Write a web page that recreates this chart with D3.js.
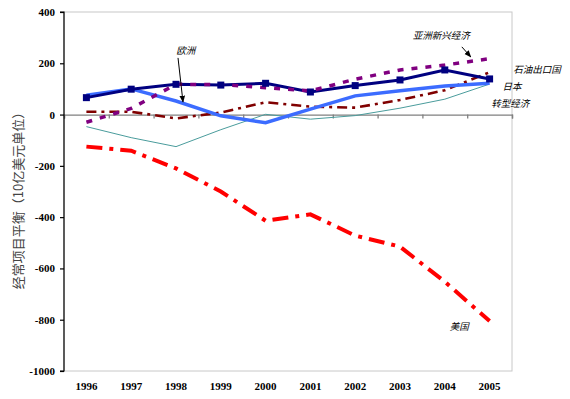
<!DOCTYPE html>
<html lang="zh">
<head>
  <meta charset="UTF-8">
  <title>经常项目平衡</title>
  <style>
    body { margin: 0; background: #fff; }
    svg { display: block; }
    .tick text { font-family: "Liberation Serif", "Times New Roman", serif; font-weight: bold; font-size: 11px; fill: #000; }
    .note { font-family: "Noto Sans CJK SC", sans-serif; font-style: italic; font-size: 9.5px; fill: #000; }
  </style>
</head>
<body>
  <div id="chart"></div>
  <script src="https://d3js.org/d3.v7.min.js"></script>
  <script>
    // 数据（从图上读取，单位：10亿美元）
    let years = ['1996', '1997', '1998', '1999', '2000', '2001', '2002', '2003', '2004', '2005']
    let usa = [-125, -141, -210, -300, -414, -389, -472, -515, -652, -805]
    let japan = [66, 99, 118, 115, 122, 88, 113, 135, 174, 139]
    let euro = [75, 100, 53, -5, -32, 21, 73, 93, 111, 122]
    let oil = [11, 11, -15, 8, 48, 31, 27, 57, 95, 165]
    let asia = [-30, 24, 118, 117, 105, 92, 138, 174, 193, 218]
    let transition = [-47, -90, -125, -59, 1, -18, -4, 25, 60, 119]
    let yTicks = [400, 200, 0, -200, -400, -600, -800, -1000]

    let W = 570, H = 399
    let pL = 64, pR = 512, pT = 12, pB = 371

    let svg = d3.select('#chart').append('svg')
      .attr('width', W)
      .attr('height', H)

    let x = d3.scaleBand().domain(years).range([pL, pR])
    let xEdge = d3.scaleLinear().domain([0, years.length]).range([pL, pR])
    let y = d3.scaleLinear().domain([-1000, 400]).range([pB, pT])

    // 任意位置（类目序号 i，数值 v）
    let pos = (i, v) => [xEdge(i + 0.5), y(v)]

    // 绘图区边框
    svg.append('rect')
      .attr('x', pL).attr('y', pT)
      .attr('width', pR - pL).attr('height', pB - pT)
      .attr('fill', 'none')
      .attr('stroke', '#c8c8c8')

    // 零线及刻度
    let zeroAxis = svg.append('g')
      .attr('transform', `translate(0, ${y(0)})`)
      .call(d3.axisBottom(xEdge).tickValues(d3.range(0, years.length + 1)).tickSize(4).tickFormat(''))
    zeroAxis.selectAll('path, line').attr('stroke', '#808080').attr('stroke-width', 1.3)

    // x轴标签
    let xAxis = svg.append('g')
      .attr('transform', `translate(0, ${pB + 8})`)
      .call(d3.axisBottom(x).tickSize(0))
    xAxis.select('.domain').remove()

    // y轴
    let yAxis = svg.append('g')
      .attr('transform', `translate(${pL}, 0)`)
      .call(d3.axisLeft(y).tickValues(yTicks).tickSize(4).tickPadding(5).tickFormat(d => String(d)))
    yAxis.selectAll('path, line').attr('stroke', '#000').attr('stroke-width', 1.2)
    yAxis.select('.domain').attr('d', `M-4,${pB}H0V${pT}H-4`)

    // y轴标题
    svg.append('text')
      .attr('transform', `translate(19, ${(pT + pB) / 2 + 6}) rotate(-90)`)
      .attr('text-anchor', 'middle')
      .attr('dominant-baseline', 'middle')
      .style('font-family', '"Noto Sans CJK SC", sans-serif')
      .style('font-size', '13px')
      .style('fill', '#444')
      .text('经常项目平衡（10亿美元单位）')

    let line = d3.line()
      .x((d, i) => x(years[i]) + x.bandwidth() / 2)
      .y(d => y(d))

    let series = [
      { values: transition, color: '#4a9c9c', width: 1, dash: null },
      { values: oil, color: '#800000', width: 2.6, dash: '10,5,3,5' },
      { values: euro, color: '#3c6cff', width: 3.5, dash: null },
      { values: japan, color: '#000080', width: 3, dash: null },
      { values: asia, color: '#800080', width: 3.5, dash: '6,8' },
      { values: usa, color: '#ff0000', width: 4, dash: '16,7,4,7' }
    ]

    series.forEach(s => {
      svg.append('path')
        .datum(s.values)
        .attr('d', line)
        .attr('fill', 'none')
        .attr('stroke', s.color)
        .attr('stroke-width', s.width)
        .attr('stroke-dasharray', s.dash)
        .attr('stroke-linejoin', 'miter')
    })

    // 日本的方形标记
    svg.selectAll('.mark')
      .data(japan)
      .enter()
      .append('rect')
      .attr('class', 'mark')
      .attr('x', (d, i) => x(years[i]) + x.bandwidth() / 2 - 3.5)
      .attr('y', d => y(d) - 3.5)
      .attr('width', 7)
      .attr('height', 7)
      .attr('fill', '#000080')

    // 箭头
    svg.append('defs').append('marker')
      .attr('id', 'arrow')
      .attr('viewBox', '0 0 10 10')
      .attr('refX', 9).attr('refY', 5)
      .attr('markerWidth', 7).attr('markerHeight', 7)
      .attr('orient', 'auto')
      .append('path')
      .attr('d', 'M0,1L10,5L0,9z')
      .attr('fill', '#000')

    let arrows = [
      [pos(2.045, 221), pos(2.156, 49)],
      [pos(8.38, 264), pos(8.58, 225)]
    ]
    arrows.forEach(a => {
      svg.append('line')
        .attr('x1', a[0][0]).attr('y1', a[0][1])
        .attr('x2', a[1][0]).attr('y2', a[1][1])
        .attr('stroke', '#000')
        .attr('stroke-width', 1)
        .attr('marker-end', 'url(#arrow)')
    })

    let notes = [
      ['欧洲', 2.22, 248],
      ['亚洲新兴经济', 7.92, 303],
      ['石油出口国', 10.06, 174],
      ['日本', 9.5, 104],
      ['转型经济', 9.46, 41],
      ['美国', 8.32, -829]
    ]
    notes.forEach(n => {
      let p = pos(n[1], n[2])
      svg.append('text')
        .attr('class', 'note')
        .attr('x', p[0]).attr('y', p[1])
        .attr('text-anchor', 'middle')
        .attr('dominant-baseline', 'middle')
        .text(n[0])
    })
  </script>
</body>
</html>
